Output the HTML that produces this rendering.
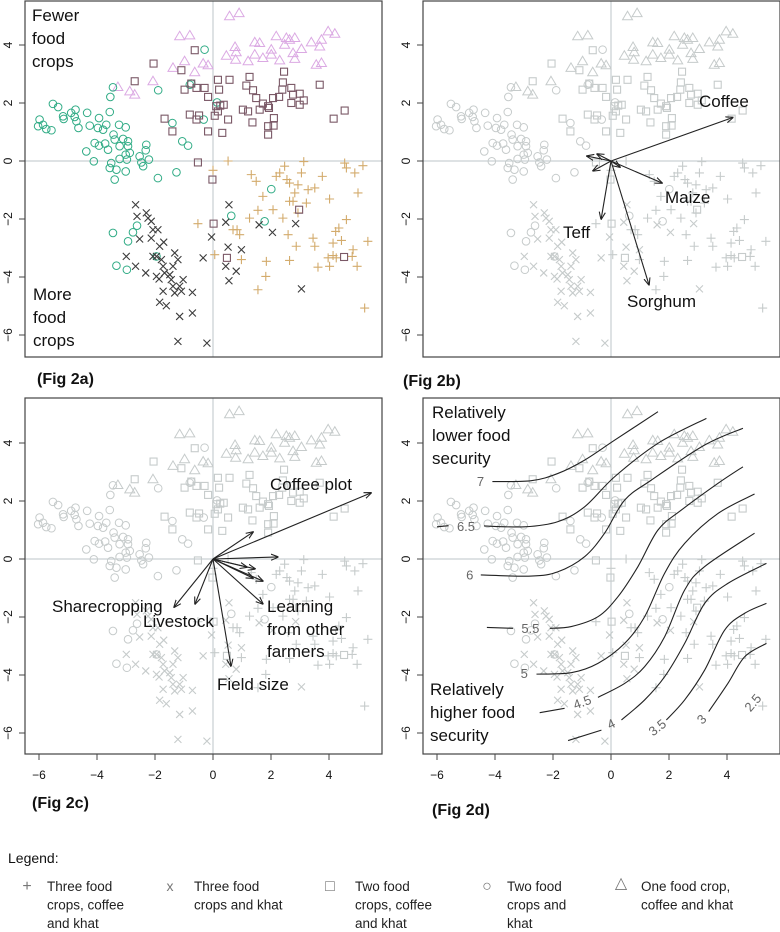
<!DOCTYPE html>
<html><head><meta charset="utf-8"><style>
html,body{margin:0;padding:0;background:#fff;}
svg{display:block;font-family:"Liberation Sans",Arial,sans-serif;}
</style></head><body>
<svg id="fig" width="780" height="932" viewBox="0 0 780 932" xmlns="http://www.w3.org/2000/svg">
<defs>
<marker id="ah" viewBox="0 0 10 10" refX="9" refY="5" markerWidth="7" markerHeight="7" orient="auto-start-reverse"><path d="M0,1 L10,5 L0,9" fill="none" stroke="#222" stroke-width="1.4"/></marker>
<clipPath id="clipA"><rect x="25" y="1" width="357" height="356"/></clipPath>
<clipPath id="clipB"><rect x="423" y="1" width="357" height="356"/></clipPath>
<clipPath id="clipC"><rect x="25" y="398" width="357" height="356"/></clipPath>
<clipPath id="clipD"><rect x="423" y="398" width="357" height="356"/></clipPath>
</defs>
<g id="root"></g>
</svg>
<script>
// ---- data (PCA scores, data units) ----
const triX=[0.57,0.90,-1.15,-0.80,-0.98,-1.38,-0.34,-0.17,-0.63,-2.07,-3.28,-2.87,-2.70,0.46,0.76,0.80,0.78,1.21,1.44,1.61,1.44,1.72,2.01,2.18,2.01,2.30,2.53,2.47,2.64,2.82,2.76,2.82,3.05,3.39,3.74,3.68,3.97,4.20,3.56,3.74];
const triY=[4.99,5.10,4.30,4.33,3.44,3.21,3.36,3.30,3.06,2.75,2.55,2.40,2.29,3.63,3.93,3.75,3.49,3.44,4.09,4.07,3.67,3.55,3.84,4.30,3.67,3.47,4.24,4.01,4.18,4.24,3.72,3.52,3.86,4.09,4.18,3.95,4.47,4.39,3.32,3.38];
const sqX=[-0.63,-2.05,-1.09,-2.70,-0.75,-0.98,-0.57,-0.29,0.21,0.57,0.17,1.26,1.15,1.38,1.49,1.72,1.90,2.07,2.28,2.45,2.41,2.39,2.70,2.76,2.99,3.13,2.70,2.99,3.68,4.54,4.16,-1.67,-1.40,-0.80,-0.48,-0.57,-0.17,0.06,0.17,0.25,0.32,0.52,1.03,1.21,1.36,1.90,2.09,1.90,2.10,1.93,1.61,-0.52,-0.02,0.02,0.48,2.97,4.52,-0.17,0.11,0.37];
const sqY=[3.82,3.36,3.13,2.75,2.67,2.46,2.52,2.52,2.46,2.80,2.80,2.90,2.60,2.44,2.17,1.98,1.89,2.17,2.21,3.08,2.71,2.46,2.52,2.29,2.32,2.09,2.00,1.94,2.63,1.74,1.46,1.46,1.02,1.60,1.57,1.43,1.02,1.56,1.71,1.91,0.97,1.43,1.77,1.71,1.33,1.20,1.22,0.91,1.48,1.83,1.77,-0.05,-0.64,-2.16,-3.34,-1.68,-3.31,2.21,1.89,1.94];
const circX=[-0.29,-0.75,-3.45,-3.54,-1.89,-5.52,-5.34,-5.17,-5.15,-4.89,-4.74,-4.77,-4.71,-4.34,-3.93,-3.56,-5.98,-6.03,-5.86,-5.75,-5.57,-4.64,-4.25,-3.97,-3.79,-3.68,-3.24,-3.01,-4.08,-3.93,-3.72,-3.62,-4.37,-3.43,-3.39,-3.22,-3.10,-2.93,-2.93,-2.87,-3.01,-2.97,-3.22,-3.51,-3.33,-3.39,-4.11,-3.56,-3.01,-2.53,-2.30,-2.32,-2.47,-2.21,-2.41,-1.90,-1.26,-1.40,-1.06,-0.86,-0.32,0.14,2.01,0.63,1.78,-3.45,-2.76,-2.62,-2.93,-1.95,-3.33,-2.97,-0.80];
const circY=[3.84,2.67,2.54,2.21,2.44,1.97,1.86,1.54,1.45,1.66,1.77,1.52,1.37,1.66,1.48,1.69,1.43,1.20,1.25,1.10,1.06,1.14,1.22,1.14,1.08,1.25,1.25,1.16,0.62,0.53,0.60,0.39,0.33,0.91,0.74,0.51,0.76,0.68,0.51,0.28,0.22,0.05,0.07,-0.07,-0.30,-0.64,-0.01,-0.24,-0.36,0.16,0.56,0.37,-0.05,0.05,-0.18,-0.59,-0.39,1.31,0.68,0.53,1.43,2.02,-0.97,-1.89,-2.08,-2.48,-2.46,-2.23,-2.77,-3.29,-3.61,-3.75,2.63];
const crossX=[-2.67,-2.62,-2.30,-2.24,-2.13,-2.53,-2.07,-1.90,-2.13,-1.70,-2.99,-2.67,-2.32,-1.84,-1.95,-1.78,-1.72,-1.95,-1.86,-1.49,-1.32,-1.21,-1.38,-1.44,-1.72,-1.84,-1.61,-1.38,-1.15,-1.03,-1.09,-1.32,-1.15,-0.71,-0.71,-1.21,-0.21,-0.34,-0.05,0.55,0.44,0.52,0.98,0.44,0.80,0.55,1.59,2.05,2.85,3.05,-2.07,-1.67];
const crossY=[-1.51,-1.91,-1.79,-1.97,-2.08,-2.69,-2.37,-2.37,-2.66,-2.80,-3.29,-3.63,-3.86,-2.94,-3.29,-3.40,-3.63,-3.98,-4.07,-3.92,-3.17,-3.40,-3.63,-4.09,-4.49,-4.87,-4.99,-4.32,-4.32,-4.09,-4.49,-4.55,-5.36,-4.53,-5.24,-6.22,-6.28,-3.34,-2.62,-1.51,-2.11,-2.97,-3.06,-3.63,-3.80,-4.13,-2.20,-2.46,-2.16,-4.41,-3.29,-3.86];
const plusX=[0.52,0.00,1.32,1.49,2.18,2.47,2.30,2.55,2.64,3.05,3.13,3.77,4.54,4.60,4.89,5.17,5.00,4.02,3.28,3.51,2.93,2.82,2.76,2.64,1.72,2.07,1.55,2.41,1.26,2.93,3.22,4.60,4.34,4.23,-0.52,0.83,0.92,0.69,2.59,2.87,3.45,3.51,4.14,4.43,5.34,4.83,4.80,4.14,3.97,4.25,0.98,1.84,2.64,4.02,3.62,4.97,1.82,1.55,5.23,0.06];
const plusY=[0.00,-0.32,-0.47,-0.70,-0.53,-0.18,-0.41,-0.64,-0.76,-0.41,-0.02,-0.53,-0.07,-0.24,-0.41,-0.16,-1.10,-1.31,-0.99,-0.93,-0.82,-1.10,-1.39,-1.39,-1.22,-1.68,-1.70,-1.97,-1.97,-1.79,-1.45,-2.02,-2.31,-2.43,-2.16,-2.37,-2.54,-2.37,-2.54,-2.94,-2.66,-2.94,-2.83,-2.74,-2.77,-3.06,-3.29,-3.26,-3.34,-3.34,-3.40,-3.46,-3.43,-3.63,-3.66,-3.63,-3.98,-4.44,-5.07,-3.23];
// biplot loadings (Fig 2b)
const cropNames=["Coffee","Maize","Teff","Sorghum","","","",""];
const cropLX=[4.20,1.76,-0.34,1.31,-0.83,-0.48,-0.62,0.31];
const cropLY=[1.50,-0.76,-2.00,-4.27,0.17,0.24,-0.34,-0.21];
// biplot loadings (Fig 2c)
const varLX=[5.45,1.38,2.24,1.17,1.45,1.38,1.72,1.72,0.62,-0.62,-1.34];
const varLY=[2.28,0.93,0.07,-0.28,-0.34,-0.66,-0.76,-1.55,-3.69,-1.55,-1.66];
// contours (Fig 2d)
const contourLevels=["7","6.5","6","5.5","5","4.5","4","3.5","3"];
const contourX=[[-4.09,-2.75,-1.83,-0.91,0.13,1.62],[-4.38,-2.98,-1.83,-0.91,0.13,1.62,3.29],[-4.49,-2.75,-1.83,-0.91,-0.22,0.47,1.39,3.23,4.55],[-2.11,-1.37,-0.45,0.24,0.93,1.62,2.43,3.69,4.55],[-2.57,-1.37,-0.45,0.47,1.16,1.85,2.54,3.69,4.95],[-0.45,0.47,1.16,1.85,2.54,3.23,4.95],[0.36,1.16,1.85,2.54,3.23,4.03,5.36],[1.91,2.54,3.23,3.92,4.61,5.36],[3.37,4.03,4.61,5.36]];
const contourY=[[2.67,2.70,2.95,3.41,4.10,5.08],[1.14,1.11,1.29,1.80,2.84,3.99,4.85],[-0.55,-0.59,-0.44,0.08,0.89,2.03,2.72,3.93,4.51],[-2.39,-2.33,-1.99,-1.30,-0.26,1.00,1.69,2.61,3.18],[-3.97,-3.92,-3.60,-2.91,-1.99,-0.49,0.54,1.57,2.24],[-4.77,-4.29,-3.71,-2.68,-1.07,-0.26,0.89],[-5.55,-4.86,-4.06,-2.91,-1.53,-0.84,-0.15],[-5.55,-4.86,-3.83,-2.45,-1.87,-1.53],[-5.26,-4.29,-3.37,-2.91]];
const stubX=[[-6.0,-5.6],[-4.28,-3.38],[-2.46,-1.60],[-1.48,-0.33]];
const stubY=[[1.11,1.15],[-2.36,-2.39],[-5.30,-5.15],[-6.26,-5.90]];
const labelLevel=["7","6.5","6","5.5","5","4.5","4","3.5","3","2.5"];
const labelX=[-4.5,-5.0,-4.87,-2.78,-2.99,-0.98,0.02,1.62,3.15,4.92];
const labelY=[2.63,1.09,-0.59,-2.44,-3.99,-4.97,-5.72,-5.84,-5.55,-4.98];
const labelRot=[0,0,0,0,0,-20,-25,-38,-45,-50];
const tickVals=[-6,-4,-2,0,2,4];

const NS="http://www.w3.org/2000/svg";
const root=document.getElementById('root');
const U=29;
function mk(tag,attrs,parent){const e=document.createElementNS(NS,tag);for(const k in attrs)e.setAttribute(k,attrs[k]);(parent||root).appendChild(e);return e;}
const panels=[
 {id:'a',x:25,y:1,x0:213,y0:161,clip:'clipA'},
 {id:'b',x:423,y:1,x0:611,y0:161,clip:'clipB'},
 {id:'c',x:25,y:398,x0:213,y0:559,clip:'clipC'},
 {id:'d',x:423,y:398,x0:611,y0:559,clip:'clipD'}];
const W=357,H=356;
const GREY='#c6cbcb';
function sx(p,v){return p.x0+v*U;}
function sy(p,v){return p.y0-v*U;}

function drawMarkers(p,g,color,xs,ys,kind){
 for(let i=0;i<xs.length;i++){
  const X=sx(p,xs[i]),Y=sy(p,ys[i]);let e;
  if(kind==='circ'){e=mk('circle',{cx:X,cy:Y,r:3.8,fill:'none',stroke:color,'stroke-width':1},g);}
  else if(kind==='sq'){e=mk('rect',{x:X-3.5,y:Y-3.5,width:7,height:7,fill:'none',stroke:color,'stroke-width':1.1},g);}
  else if(kind==='tri'){e=mk('path',{d:`M${X},${Y-5} L${X+5},${Y+3.5} L${X-5},${Y+3.5} Z`,fill:'none',stroke:color,'stroke-width':1},g);}
  else if(kind==='cross'){e=mk('path',{d:`M${X-3.5},${Y-3.5} L${X+3.5},${Y+3.5} M${X-3.5},${Y+3.5} L${X+3.5},${Y-3.5}`,stroke:color,'stroke-width':1.1},g);}
  else {e=mk('path',{d:`M${X-4.5},${Y} L${X+4.5},${Y} M${X},${Y-4.5} L${X},${Y+4.5}`,stroke:color,'stroke-width':1.1},g);}
  
  
 }
}
function smooth(pts){
 let d=`M${pts[0][0]},${pts[0][1]}`;
 for(let i=0;i<pts.length-1;i++){
  const p0=pts[Math.max(0,i-1)],p1=pts[i],p2=pts[i+1],p3=pts[Math.min(pts.length-1,i+2)];
  const c1=[p1[0]+(p2[0]-p0[0])/6,p1[1]+(p2[1]-p0[1])/6],c2=[p2[0]-(p3[0]-p1[0])/6,p2[1]-(p3[1]-p1[1])/6];
  d+=` C${c1[0]},${c1[1]} ${c2[0]},${c2[1]} ${p2[0]},${p2[1]}`;
 }
 return d;
}
function text(str,x,y,size,attrs,parent,name){
 const t=mk('text',Object.assign({x:x,y:y,'font-size':size,fill:'#111'},attrs||{}),parent);t.textContent=str;
 
 
 return t;
}

panels.forEach(p=>{
 const g=mk('g',{});
 
 
 const pg=mk('g',{'clip-path':`url(#${p.clip})`},g);
 
 
 // zero lines
 const zl=mk('path',{d:`M${p.x},${p.y0} H${p.x+W} M${p.x0},${p.y} V${p.y+H}`,stroke:'#bcc6c9','stroke-width':1},pg);
 
 
 const col=p.id==='a';
 drawMarkers(p,pg,col?'#dba9e3':GREY,triX,triY,'tri');
 drawMarkers(p,pg,col?'#d3ab6c':GREY,plusX,plusY,'plus');
 drawMarkers(p,pg,col?'#31ac86':GREY,circX,circY,'circ');
 drawMarkers(p,pg,col?'#7a5866':GREY,sqX,sqY,'sq');
 drawMarkers(p,pg,col?'#3c3c3c':GREY,crossX,crossY,'cross');
 // frame
 const fr=mk('rect',{x:p.x,y:p.y,width:W,height:H,fill:'none',stroke:'#444','stroke-width':1.2},g);
 
 
 // y ticks
 tickVals.forEach(v=>{
  const Y=sy(p,v);
  const tk=mk('line',{x1:p.x-6,x2:p.x,y1:Y,y2:Y,stroke:'#444'},g);
  
  
  text(String(v).replace('-','\u2212'),p.x-13,Y,12,{transform:`rotate(-90 ${p.x-13} ${Y})`,'text-anchor':'middle'},g,'y-tick-label');
 });
 if(p.id==='c'||p.id==='d'){
  tickVals.forEach(v=>{
   const X=sx(p,v);
   const tk=mk('line',{x1:X,x2:X,y1:p.y+H,y2:p.y+H+6,stroke:'#444'},g);
   
   
   text(String(v).replace('-','\u2212'),X,p.y+H+25,12,{'text-anchor':'middle'},g,'x-tick-label');
  });
 }
 if(p.id==='b'){
  for(let i=0;i<cropLX.length;i++){
   const a=mk('line',{x1:p.x0,y1:p.y0,x2:sx(p,cropLX[i]),y2:sy(p,cropLY[i]),stroke:'#222','stroke-width':1.1,'marker-end':'url(#ah)'},g);
   
   
  }
  text('Coffee',699,107,17,{},g,'arrow-label-coffee');
  text('Maize',665,203,17,{},g,'arrow-label-maize');
  text('Teff',563,238,17,{},g,'arrow-label-teff');
  text('Sorghum',627,307,17,{},g,'arrow-label-sorghum');
 }
 if(p.id==='c'){
  for(let i=0;i<varLX.length;i++){
   const a=mk('line',{x1:p.x0,y1:p.y0,x2:sx(p,varLX[i]),y2:sy(p,varLY[i]),stroke:'#222','stroke-width':1.1,'marker-end':'url(#ah)'},g);
   
   
  }
  text('Coffee plot',270,490,17,{},g,'arrow-label-coffee-plot');
  text('Sharecropping',52,612,17,{},g,'arrow-label-sharecropping');
  text('Livestock',143,627,17,{},g,'arrow-label-livestock');
  text('Learning',267,612,17,{},g,'arrow-label-learning');
  text('from other',267,635,17,{},g,'arrow-label-learning');
  text('farmers',267,657,17,{},g,'arrow-label-learning');
  text('Field size',217,690,17,{},g,'arrow-label-field-size');
 }
 if(p.id==='d'){
  const cg=mk('g',{'clip-path':`url(#${p.clip})`},g);
  
  
  for(let i=0;i<contourX.length;i++){
   const pts=contourX[i].map((v,j)=>[sx(p,v),sy(p,contourY[i][j])]);
   const c=mk('path',{d:smooth(pts),fill:'none',stroke:'#222','stroke-width':1.1},cg);
   
   
  }
  for(let i=0;i<stubX.length;i++){
   const c=mk('line',{x1:sx(p,stubX[i][0]),y1:sy(p,stubY[i][0]),x2:sx(p,stubX[i][1]),y2:sy(p,stubY[i][1]),stroke:'#222','stroke-width':1.1},cg);
   
   
  }
  for(let i=0;i<labelLevel.length;i++){
   const X=sx(p,labelX[i]),Y=sy(p,labelY[i]);
   text(labelLevel[i],X,Y,13,{fill:'#666','text-anchor':'middle','dominant-baseline':'middle',transform:`rotate(${labelRot[i]} ${X} ${Y})`},cg,'contour-label');
  }
  ['Relatively','lower food','security'].forEach((s,i)=>text(s,432,418+i*23,17,{},g,'annotation-lower-security'));
  ['Relatively','higher food','security'].forEach((s,i)=>text(s,430,695+i*23,17,{},g,'annotation-higher-security'));
 }
 if(p.id==='a'){
  ['Fewer','food','crops'].forEach((s,i)=>text(s,32,21+i*23,17,{},g,'annotation-fewer-crops'));
  ['More','food','crops'].forEach((s,i)=>text(s,33,300+i*23,17,{},g,'annotation-more-crops'));
 }
});
// panel captions
text('(Fig 2a)',37,384,16,{'font-weight':'bold'},root,'caption-fig-2a');
text('(Fig 2b)',403,386,16,{'font-weight':'bold'},root,'caption-fig-2b');
text('(Fig 2c)',32,808,16,{'font-weight':'bold'},root,'caption-fig-2c');
text('(Fig 2d)',432,815,16,{'font-weight':'bold'},root,'caption-fig-2d');
// legend
const lg=mk('g',{});


text('Legend:',8,863,14,{},lg,'legend-title');
const legSym=['+','x','\u25A1','\u25CB','\u25B3'];
const legSymX=[27,170,330,487,621];
const legTxtX=[47,194,355,507,641];
const legLines=[['Three food','crops, coffee','and khat'],['Three food','crops and khat'],['Two food','crops, coffee','and khat'],['Two food','crops and','khat'],['One food crop,','coffee and khat']];
for(let i=0;i<5;i++){
 const e=mk('g',{},lg);
 
 
 text(legSym[i],legSymX[i],i===4?888:891,i===1?14:16,{fill:'#777','text-anchor':'middle'},e,'legend-symbol');
 legLines[i].forEach((s,j)=>text(s,legTxtX[i],891+j*18.5,13.5,{fill:'#222'},e,'legend-text'));
}
</script>
</body></html>
